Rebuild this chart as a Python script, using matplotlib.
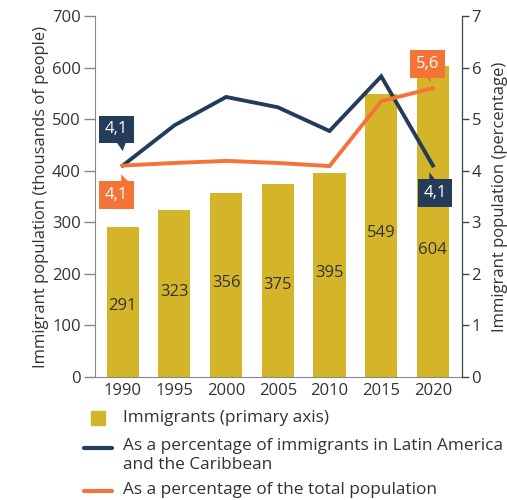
import numpy as np
import matplotlib
matplotlib.use('Agg')
import matplotlib.pyplot as plt
from matplotlib.patches import Polygon

plt.rcParams['font.family'] = ['Open Sans', 'DejaVu Sans']

years = ['1990', '1995', '2000', '2005', '2010', '2015', '2020']
immigrants = [291, 323, 356, 375, 395, 549, 604]
pct_lac = [4.1, 4.88, 5.43, 5.23, 4.77, 5.83, 4.1]
pct_total = [4.1, 4.15, 4.19, 4.15, 4.09, 5.35, 5.6]
# where the bar value labels sit (left-axis units)
label_y = [138, 165, 182, 178, 201, 279, 246]

gold = '#D4B52A'
navy = '#243B5A'
orange = '#F47336'
txt = '#333333'
fs = 12

fig = plt.figure(figsize=(5.07, 5.0), dpi=100)
ax = fig.add_axes([0.187, 0.246, 0.724, 0.722])
ax2 = ax.twinx()

x = np.arange(len(years))
ax.bar(x, immigrants, width=0.62, color=gold, zorder=2)
for i in range(len(x)):
  ax.text(x[i], label_y[i], str(immigrants[i]), ha='center', va='center', fontsize=fs, color=txt, zorder=3)

ax2.plot(x, pct_lac, color=navy, lw=2.8, solid_joinstyle='miter')
ax2.plot(x, pct_total, color=orange, lw=2.8, solid_joinstyle='miter')

ax.set_xlim(-0.54, 6.56)
ax.set_ylim(0, 700)
ax2.set_ylim(0, 7)
ax.set_xticks(x)
ax.set_xticklabels(years)
ax.set_yticks(range(0, 701, 100))
ax2.set_yticks(range(0, 8))

for a in (ax, ax2):
  a.spines['top'].set_visible(False)
  a.tick_params(labelsize=fs, colors=txt)
ax.spines['left'].set_color('#888888')
ax.spines['bottom'].set_color('#888888')
ax2.spines['left'].set_visible(False)
ax2.spines['bottom'].set_visible(False)
ax2.spines['right'].set_color('#444444')
ax.tick_params(axis='y', length=8, color='#888888', width=1, pad=2)
ax.tick_params(axis='x', length=0, pad=4)
ax2.tick_params(axis='y', length=5, color='#444444', width=1, pad=2)

ax.set_ylabel('Immigrant population (thousands of people)', fontsize=fs, color=txt, labelpad=2)
ax2.set_ylabel('Immigrant population (percentage)', fontsize=fs, color=txt, labelpad=8)

def callout(a, xc, yc, s, color, tip, base):
  a.text(xc, yc, s, ha='center', va='center', fontsize=fs, color='white', zorder=6,
         bbox=dict(boxstyle='square,pad=0.35', fc=color, ec='none'))
  pts = [base[0], base[1], tip]
  a.add_patch(Polygon(pts, closed=True, fc=color, ec='none', zorder=5))

# 1990 navy, above the point
callout(ax2, -0.12, 4.8, '4,1', navy, (0.0, 4.38), [(-0.15, 4.6), (0.08, 4.6)])
# 1990 orange, below the point
callout(ax2, -0.12, 3.53, '4,1', orange, (-0.03, 3.93), [(-0.03, 3.7), (0.2, 3.7)])
# 2020 orange, above
callout(ax2, 5.9, 6.07, '5,6', orange, (5.97, 5.7), [(5.8, 5.9), (5.97, 5.9)])
# 2020 navy, below
callout(ax2, 6.04, 3.57, '4,1', navy, (5.93, 3.97), [(5.93, 3.7), (6.15, 3.7)])

# legend
fig.patches.append(plt.Rectangle((91/507, 1-425/500), 14/507, 14/500, transform=fig.transFigure, color=gold))
fig.text(123/507, 1-418/500, 'Immigrants (primary axis)', fontsize=12.4, color=txt, va='center')
fig.add_artist(plt.Line2D([84/507, 112/507], [1-448/500]*2, color=navy, lw=3, solid_capstyle='round'))
fig.text(123/507, 1-446/500, 'As a percentage of immigrants in Latin America', fontsize=12.4, color=txt, va='center')
fig.text(123/507, 1-465/500, 'and the Caribbean', fontsize=12.4, color=txt, va='center')
fig.add_artist(plt.Line2D([84/507, 112/507], [1-491/500]*2, color=orange, lw=3, solid_capstyle='round'))
fig.text(123/507, 1-490/500, 'As a percentage of the total population', fontsize=12.4, color=txt, va='center')

fig.savefig('out.png', dpi=100)
